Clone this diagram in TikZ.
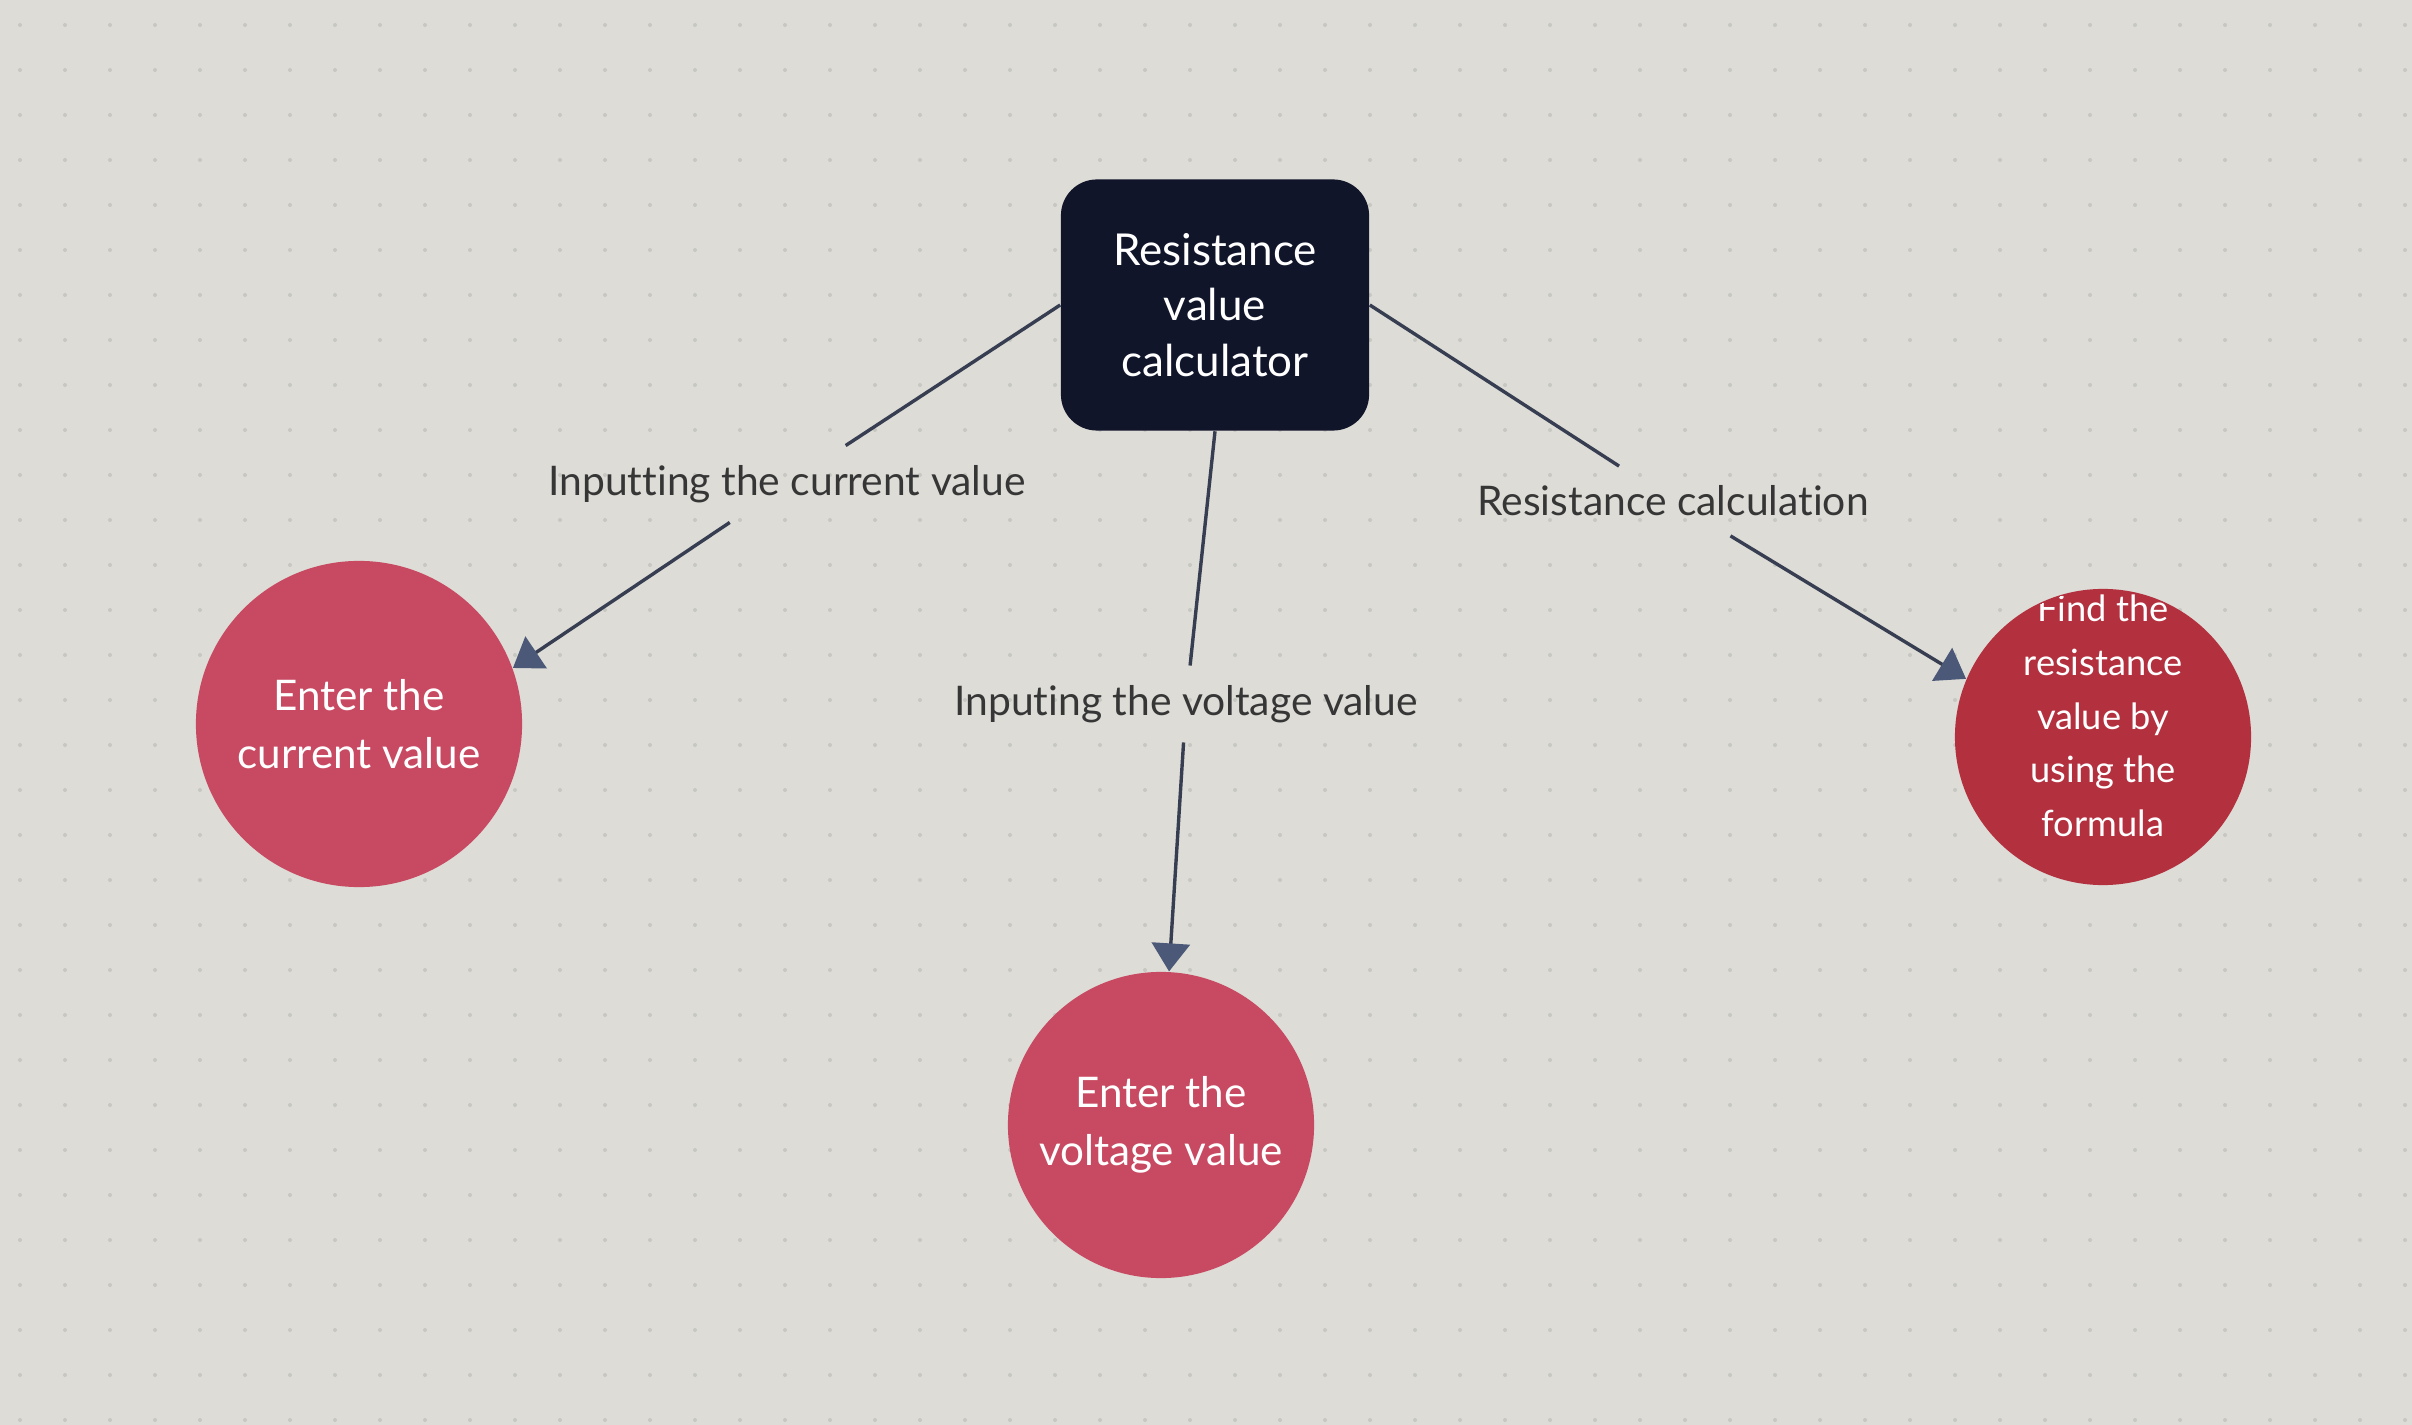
\documentclass[tikz,border=0pt]{standalone}
\usepackage{fontspec}
\setmainfont{Lato}[Ligatures=NoCommon]
\usetikzlibrary{arrows.meta}
\definecolor{bgc}{HTML}{DDDCD6}
\definecolor{dotc}{HTML}{C8C8C2}
\definecolor{boxc}{HTML}{10152A}
\definecolor{circc}{HTML}{C84A62}
\definecolor{circd}{HTML}{B3303F}
\definecolor{linec}{HTML}{373E52}
\definecolor{tipc}{HTML}{4C5878}
\definecolor{txtc}{HTML}{363636}
\tikzset{
  calcbox/.style={draw=none, fill=boxc, rounded corners=0.36cm, minimum width=3.08cm, minimum height=2.51cm,
    text=white, align=center, font=\fontsize{12.5}{15.7}\selectfont},
  stepcirc/.style={circle, draw=none, fill=circc, inner sep=0pt, text=white, align=center,
    font=\fontsize{12}{16.6}\selectfont},
  lbl/.style={text=txtc, inner xsep=0.02cm, inner ysep=0.19cm, font=\fontsize{11.6}{14}\selectfont},
  conn/.style={draw=linec, line width=0.034cm},
  arr/.style={conn, -{Triangle[length=0.28cm, width=0.38cm, fill=tipc, color=tipc]}}
}
\begin{document}
\begin{tikzpicture}[x=0.01cm, y=-0.01cm]
\useasboundingbox (0,0) rectangle (2412,1425);
\fill[bgc] (0,0) rectangle (2412,1425);
\foreach \i in {0,...,53}{\foreach \j in {0,...,31}{\fill[dotc] (20+\i*45,25+\j*45) circle (0.02cm);}}

\node[calcbox] (calc) at (1215,305) {Resistance\\value\\calculator};

\node[stepcirc, minimum size=3.26cm] (cur) at (359,724) {Enter the\\current value};
\node[stepcirc, minimum size=3.06cm] (volt) at (1161,1125) {Enter the\\voltage value};
\node[circle, fill=circd, minimum size=2.96cm, inner sep=0pt] (res) at (2103,737) {};
\begin{scope}
\clip (res.center) circle (1.47cm);
\node[text=white, align=center, font=\fontsize{10.3}{15.3}\selectfont] (restxt) at (2103,716)
  {Find the\\resistance\\value by\\using the\\formula};
\end{scope}

\node[lbl] (l1) at (787,484) {Inputting the current value};
\node[lbl] (l2) at (1186,704) {Inputing the voltage value};
\node[lbl] (l3) at (1673,501) {Resistance calculation};

\draw[conn] (calc.west) -- (l1);
\draw[arr] (l1) -- (cur.20);
\draw[conn] (calc.south) -- (l2);
\draw[arr] (l2) -- (volt.87);
\draw[conn] (calc.east) -- (l3);
\draw[arr] (l3) -- (res.157);
\end{tikzpicture}
\end{document}
